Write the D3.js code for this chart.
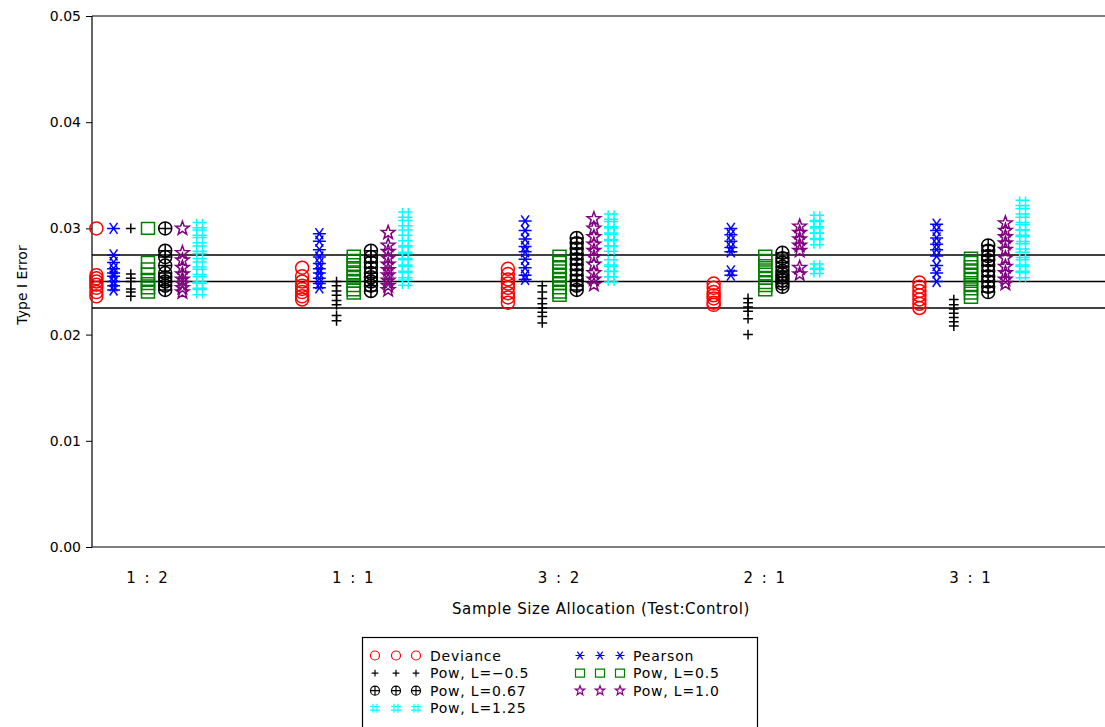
<!DOCTYPE html>
<html>
<head>
<meta charset="utf-8">
<script src="https://cdn.jsdelivr.net/npm/d3@7"></script>
<style>
  body { margin: 0; background: #fff; }
  text { font-family: "DejaVu Sans", sans-serif; fill: #000; }
</style>
</head>
<body>
<div class="chart-container"></div>
<script>
// categories (x) and series
var categories = ['1 : 2', '1 : 1', '3 : 2', '2 : 1', '3 : 1'];
var seriesNames = ['Deviance', 'Pearson', 'Pow, L=\u22120.5', 'Pow, L=0.5', 'Pow, L=0.67', 'Pow, L=1.0', 'Pow, L=1.25'];
var seriesColors = ['#ff0000', '#0000ff', '#000000', '#008000', '#000000', '#800080', '#00ffff'];
var seriesSymbols = ['circle', 'asterisk', 'plus', 'square', 'circleplus', 'star', 'hash'];
var yTicks = [0, 0.01, 0.02, 0.03, 0.04, 0.05];
var refLines = [0.0225, 0.025, 0.0275];

// type I error values, one list per allocation
var deviance = [
  [0.0300, 0.0256, 0.0253, 0.0250, 0.0247, 0.0244, 0.0240, 0.0236],
  [0.0263, 0.0255, 0.0250, 0.0246, 0.0243, 0.0240, 0.0236, 0.0233],
  [0.0262, 0.0257, 0.0252, 0.0248, 0.0244, 0.0239, 0.0235, 0.0230],
  [0.0248, 0.0244, 0.0240, 0.0237, 0.0234, 0.0230, 0.0228],
  [0.0249, 0.0245, 0.0241, 0.0237, 0.0233, 0.0229, 0.0225]
];
var pearson = [
  [0.0300, 0.0275, 0.0268, 0.0262, 0.0258, 0.0255, 0.0250, 0.0246, 0.0242],
  [0.0295, 0.0288, 0.0280, 0.0273, 0.0267, 0.0262, 0.0258, 0.0253, 0.0248, 0.0244],
  [0.0307, 0.0298, 0.0290, 0.0283, 0.0278, 0.0271, 0.0263, 0.0256, 0.0252],
  [0.0300, 0.0294, 0.0288, 0.0282, 0.0278, 0.0260, 0.0256],
  [0.0304, 0.0298, 0.0291, 0.0285, 0.0280, 0.0274, 0.0265, 0.0258, 0.0250]
];
var powM05 = [
  [0.0300, 0.0257, 0.0253, 0.0250, 0.0243, 0.0240, 0.0236],
  [0.0250, 0.0246, 0.0241, 0.0237, 0.0232, 0.0228, 0.0218, 0.0213],
  [0.0246, 0.0240, 0.0234, 0.0229, 0.0225, 0.0221, 0.0217, 0.0211],
  [0.0234, 0.0230, 0.0226, 0.0222, 0.0215, 0.0200],
  [0.0233, 0.0228, 0.0224, 0.0220, 0.0216, 0.0212, 0.0208]
];
var pow05 = [
  [0.0300, 0.0268, 0.0262, 0.0257, 0.0252, 0.0248, 0.0244, 0.0240],
  [0.0274, 0.0270, 0.0266, 0.0262, 0.0258, 0.0254, 0.0250, 0.0246, 0.0242, 0.0239],
  [0.0274, 0.0268, 0.0264, 0.0260, 0.0256, 0.0252, 0.0248, 0.0244, 0.0240, 0.0237],
  [0.0274, 0.0270, 0.0265, 0.0261, 0.0257, 0.0253, 0.0249, 0.0246, 0.0242],
  [0.0272, 0.0268, 0.0264, 0.0260, 0.0256, 0.0252, 0.0247, 0.0243, 0.0239, 0.0235]
];
var pow067 = [
  [0.0300, 0.0279, 0.0273, 0.0265, 0.0258, 0.0254, 0.0250, 0.0246, 0.0242],
  [0.0279, 0.0273, 0.0268, 0.0263, 0.0258, 0.0254, 0.0250, 0.0246, 0.0241],
  [0.0291, 0.0286, 0.0281, 0.0276, 0.0271, 0.0266, 0.0261, 0.0256, 0.0251, 0.0246, 0.0242],
  [0.0277, 0.0272, 0.0268, 0.0264, 0.0260, 0.0257, 0.0254, 0.0251, 0.0248, 0.0245],
  [0.0284, 0.0279, 0.0274, 0.0270, 0.0265, 0.0260, 0.0255, 0.0250, 0.0245, 0.0240]
];
var pow10 = [
  [0.0300, 0.0277, 0.0270, 0.0263, 0.0257, 0.0252, 0.0248, 0.0244, 0.0240],
  [0.0296, 0.0284, 0.0278, 0.0272, 0.0266, 0.0261, 0.0256, 0.0251, 0.0246, 0.0242],
  [0.0309, 0.0300, 0.0292, 0.0285, 0.0279, 0.0273, 0.0266, 0.0258, 0.0252, 0.0247],
  [0.0302, 0.0296, 0.0290, 0.0284, 0.0279, 0.0263, 0.0257],
  [0.0305, 0.0298, 0.0292, 0.0286, 0.0280, 0.0272, 0.0264, 0.0258, 0.0252, 0.0248]
];
var pow125 = [
  [0.0303, 0.0296, 0.0289, 0.0281, 0.0274, 0.0266, 0.0259, 0.0252, 0.0246, 0.0240],
  [0.0313, 0.0305, 0.0296, 0.0286, 0.0280, 0.0274, 0.0268, 0.0262, 0.0256, 0.0249],
  [0.0311, 0.0304, 0.0298, 0.0292, 0.0286, 0.0281, 0.0268, 0.0262, 0.0257, 0.0252],
  [0.0310, 0.0304, 0.0298, 0.0293, 0.0287, 0.0264, 0.0260],
  [0.0324, 0.0316, 0.0308, 0.0301, 0.0296, 0.0290, 0.0283, 0.0275, 0.0268, 0.0262, 0.0256]
];
var seriesValues = [deviance, pearson, powM05, pow05, pow067, pow10, pow125];

// symbol shapes, s = half size
function symbolPath(type, s) {
  var p = d3.path();
  function line(x1, y1, x2, y2) { p.moveTo(x1, y1); p.lineTo(x2, y2); }
  function circ(r) { p.moveTo(r, 0); p.arc(0, 0, r, 0, 2 * Math.PI); }
  if (type === 'circle') {
    circ(s);
  } else if (type === 'asterisk') {
    line(-s, 0, s, 0);
    line(-s * 0.6, -s * 0.85, s * 0.6, s * 0.85);
    line(-s * 0.6, s * 0.85, s * 0.6, -s * 0.85);
  } else if (type === 'plus') {
    line(-s * 0.75, 0, s * 0.75, 0);
    line(0, -s * 0.75, 0, s * 0.75);
  } else if (type === 'square') {
    p.rect(-s, -s * 0.9, 2 * s, 1.8 * s);
  } else if (type === 'circleplus') {
    circ(s);
    line(-s, 0, s, 0);
    line(0, -s, 0, s);
  } else if (type === 'star') {
    for (var i = 0; i < 10; i++) {
      var a = -Math.PI / 2 + i * Math.PI / 5;
      var r = i % 2 ? s * 0.45 : s * 1.1;
      if (i === 0) p.moveTo(r * Math.cos(a), r * Math.sin(a));
      else p.lineTo(r * Math.cos(a), r * Math.sin(a));
    }
    p.closePath();
  } else if (type === 'hash') {
    line(-s * 0.45, -s, -s * 0.45, s);
    line(s * 0.45, -s, s * 0.45, s);
    line(-s * 1.1, -s * 0.4, s * 1.1, -s * 0.4);
    line(-s * 1.1, s * 0.4, s * 1.1, s * 0.4);
  }
  return p.toString();
}

var W = 1105, H = 727;
var plotLeft = 92, plotTop = 16, plotBottom = 547;

var svg = d3.select('.chart-container').append('svg')
    .attr('width', W)
    .attr('height', H);

var x = d3.scaleLinear().domain([1, 5]).range([148, 971]);
var y = d3.scaleLinear().domain([0, 0.05]).range([plotBottom, plotTop]);
var step = 0.0836;

// frame
svg.append('line').attr('x1', plotLeft).attr('x2', W).attr('y1', plotTop).attr('y2', plotTop)
  .attr('stroke', '#000').attr('stroke-width', 1.2);
svg.append('line').attr('x1', plotLeft).attr('x2', W).attr('y1', plotBottom).attr('y2', plotBottom)
  .attr('stroke', '#000').attr('stroke-width', 1.2);

// y axis
var yAxis = d3.axisLeft(y).tickValues(yTicks).tickFormat(d3.format('.2f')).tickSize(6).tickPadding(5);
var gy = svg.append('g').attr('transform', 'translate(' + plotLeft + ',0)').call(yAxis);
gy.select('.domain').attr('stroke-width', 1.2).attr('d', 'M0,' + plotTop + 'V' + plotBottom);
gy.selectAll('text').style('font-size', '14px').style('font-family', '"DejaVu Sans", sans-serif');

// x tick labels
svg.append('g').selectAll('text').data(categories).enter().append('text')
  .attr('x', function (d, i) { return x(i + 1); })
  .attr('y', 583)
  .attr('text-anchor', 'middle')
  .style('font-size', '15px')
  .style('letter-spacing', '2px')
  .text(function (d) { return d; });

// axis titles
svg.append('text')
  .attr('x', 601).attr('y', 614)
  .attr('text-anchor', 'middle')
  .style('font-size', '15px')
  .style('letter-spacing', '0.6px')
  .text('Sample Size Allocation (Test:Control)');
svg.append('text')
  .attr('transform', 'translate(27,285) rotate(-90)')
  .attr('text-anchor', 'middle')
  .style('font-size', '14px')
  .text('Type I Error');

// reference lines
svg.append('g').selectAll('line').data(refLines).enter().append('line')
  .attr('x1', plotLeft).attr('x2', W)
  .attr('y1', function (d) { return y(d); })
  .attr('y2', function (d) { return y(d); })
  .attr('stroke', '#000').attr('stroke-width', 1.5);

// points
var points = [];
seriesValues.forEach(function (groups, j) {
  groups.forEach(function (vals, i) {
    vals.forEach(function (v) {
      points.push({ s: j, x: i + 1 + (j - 3) * step, v: v });
    });
  });
});

svg.append('g').selectAll('path').data(points).enter().append('path')
  .attr('transform', function (d) { return 'translate(' + x(d.x) + ',' + y(d.v) + ')'; })
  .attr('d', function (d) { return symbolPath(seriesSymbols[d.s], 6.5); })
  .attr('fill', 'none')
  .attr('stroke', function (d) { return seriesColors[d.s]; })
  .attr('stroke-width', 1.5);

// legend
var legend = svg.append('g');
legend.append('rect')
  .attr('x', 362.5).attr('y', 637.5).attr('width', 395).attr('height', 120)
  .attr('fill', 'none').attr('stroke', '#000').attr('stroke-width', 1.2);

var colSym = [[375, 396, 416], [580, 600, 620]];
var colText = [430, 633];
seriesNames.forEach(function (name, i) {
  var c = i % 2, r = Math.floor(i / 2);
  var cy = 655.5 + r * 17.6;
  colSym[c].forEach(function (sx) {
    legend.append('path')
      .attr('transform', 'translate(' + sx + ',' + cy + ')')
      .attr('d', symbolPath(seriesSymbols[i], 4.5))
      .attr('fill', 'none')
      .attr('stroke', seriesColors[i])
      .attr('stroke-width', 1.2);
  });
  legend.append('text')
    .attr('x', colText[c]).attr('y', cy + 5)
    .style('font-size', '14px')
    .style('letter-spacing', '0.8px')
    .text(name);
});
</script>
</body>
</html>
